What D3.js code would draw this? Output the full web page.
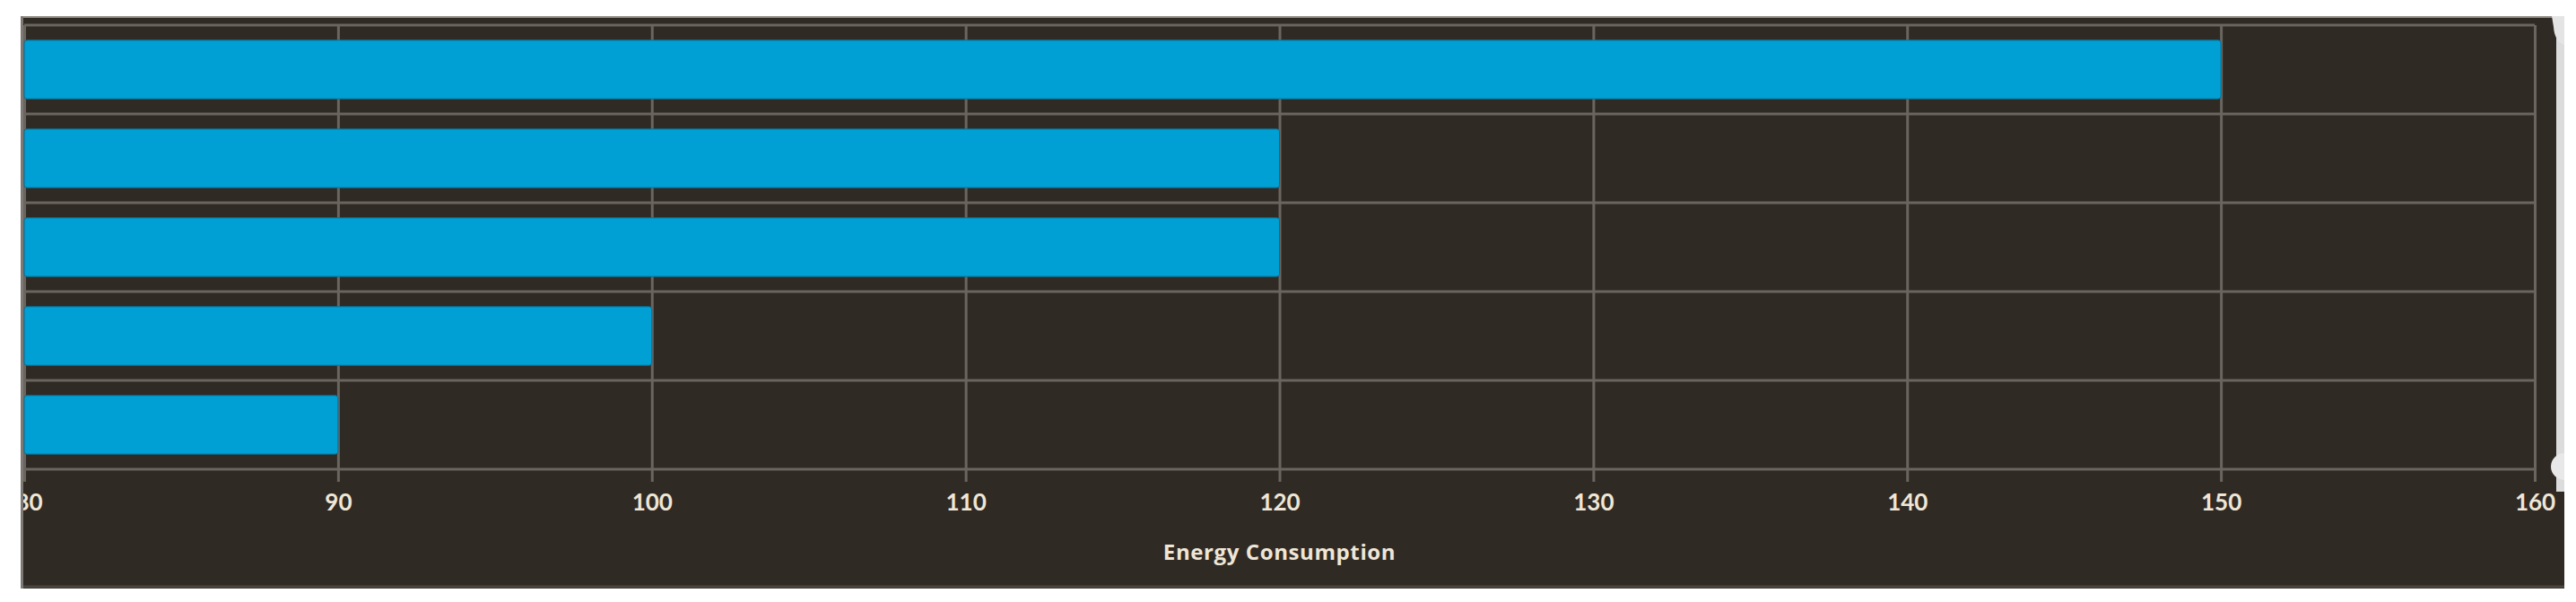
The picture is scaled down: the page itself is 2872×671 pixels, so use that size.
<!DOCTYPE html>
<html>
<head>
<meta charset="utf-8">
<script src="https://cdn.jsdelivr.net/npm/d3@7"></script>
<style>
  html, body { margin: 0; padding: 0; background: #ffffff; }
  svg { display: block; }
</style>
</head>
<body>
<svg id="chart" width="2872" height="671"></svg>
<script>
// data (category names are not shown in the chart)
var categories = ["Item 1", "Item 2", "Item 3", "Item 4", "Item 5"];
var consumption = [150, 120, 120, 100, 90];
var xTicks = [80, 90, 100, 110, 120, 130, 140, 150, 160];
var xTitle = "Energy Consumption";

var W = 2872, H = 671;
var panel = {left: 23, top: 18, right: 2859, bottom: 656};
var plot = {left: 27, top: 28, right: 2826, bottom: 523};

var bg = "#302a25";
var gridColor = "#6a655f";
var barColor = "#00a0d4";
var textColor = "#efe6d6";

var svg = d3.select("#chart");

// panel background
svg.append("rect")
    .attr("x", panel.left).attr("y", panel.top)
    .attr("width", panel.right - panel.left).attr("height", panel.bottom - panel.top)
    .attr("fill", bg);

var x = d3.scaleLinear().domain([80, 160]).range([plot.left, plot.right]);
var y = d3.scaleBand().domain(categories).range([plot.top, plot.bottom])
    .paddingInner(0.34).paddingOuter(0.17);

// vertical grid lines + ticks via the axis
var xAxis = d3.axisBottom(x).tickValues(xTicks).tickSize(plot.bottom - plot.top + 14).tickPadding(14);
var gx = svg.append("g").attr("transform", "translate(0," + plot.top + ")").call(xAxis);
gx.select(".domain").remove();
gx.selectAll(".tick line").attr("stroke", gridColor).attr("stroke-width", 3);
gx.selectAll(".tick text")
    .attr("fill", textColor)
    .attr("dx", function(d) { return d == 80 ? 5 : 0; })
    .style("font-family", "Lato, 'Open Sans', sans-serif")
    .style("font-weight", "bold")
    .style("font-size", "26px");

// horizontal grid lines on band boundaries
var bounds = categories.map(function(c) { return y(c) - y.step() * y.paddingInner() / 2; });
bounds.push(plot.bottom);
svg.append("g").selectAll("line").data(bounds).join("line")
    .attr("x1", plot.left).attr("x2", plot.right)
    .attr("y1", function(d) { return d; }).attr("y2", function(d) { return d; })
    .attr("stroke", gridColor).attr("stroke-width", 3);

// bars
svg.append("g").selectAll("rect").data(consumption).join("rect")
    .attr("x", x(80))
    .attr("y", function(d, i) { return y(categories[i]); })
    .attr("width", function(d) { return x(d) - x(80); })
    .attr("height", y.bandwidth())
    .attr("rx", 3)
    .attr("fill", barColor)
    .attr("stroke", "#0a6f94").attr("stroke-width", 1);

// axis title
svg.append("text")
    .attr("x", (plot.left + plot.right) / 2)
    .attr("y", 624)
    .attr("text-anchor", "middle")
    .attr("fill", textColor)
    .style("font-family", "'Open Sans', Lato, sans-serif")
    .style("font-weight", "bold")
    .style("font-size", "24px")
    .style("letter-spacing", "0.6px")
    .text(xTitle);

// panel borders
svg.append("line").attr("x1", panel.left).attr("x2", panel.right)
    .attr("y1", panel.top + 1).attr("y2", panel.top + 1)
    .attr("stroke", "#8c8884").attr("stroke-width", 2);
svg.append("line").attr("x1", panel.left).attr("x2", panel.right)
    .attr("y1", panel.bottom - 2).attr("y2", panel.bottom - 2)
    .attr("stroke", "#4a453f").attr("stroke-width", 3);

// white outside on the left clips the first tick label
svg.append("rect").attr("x", 0).attr("y", 0).attr("width", panel.left).attr("height", H).attr("fill", "#ffffff");
svg.append("line").attr("x1", panel.left + 1.5).attr("x2", panel.left + 1.5)
    .attr("y1", panel.top).attr("y2", panel.bottom)
    .attr("stroke", "#7d7873").attr("stroke-width", 3);

// scrollbar strip on the right edge
svg.append("rect").attr("x", panel.right).attr("y", 0).attr("width", W - panel.right).attr("height", H).attr("fill", "#ffffff");
svg.append("rect").attr("x", 2850).attr("y", panel.top).attr("width", 9).attr("height", 530)
    .attr("fill", "#dcdcdc");
svg.append("path")
    .attr("d", "M2845,18 L2859,18 L2859,50 Q2848,46 2847,30 Z")
    .attr("fill", "#e4e4e4");
svg.append("path")
    .attr("d", "M2859,505 A15,15 0 0,0 2859,535 Z")
    .attr("fill", "#e8e8e8");
</script>
</body>
</html>
